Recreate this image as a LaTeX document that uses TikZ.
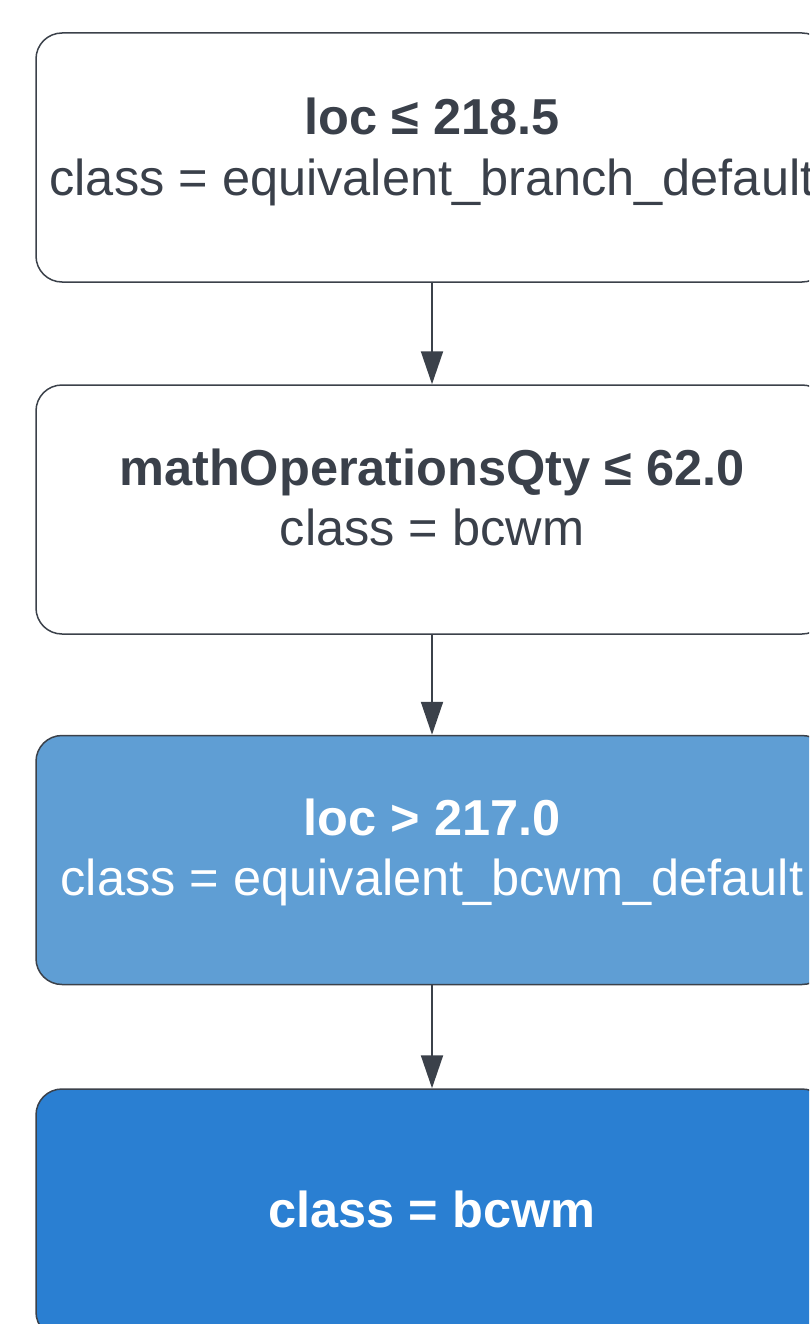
\documentclass[tikz,border=0pt]{standalone}
\usepackage{fontspec}
\setmainfont{Liberation Sans}
\usetikzlibrary{arrows.meta}
\definecolor{edgec}{HTML}{3B414A}
\definecolor{txtc}{HTML}{3A404A}
\definecolor{midblue}{HTML}{5F9ED4}
\definecolor{deepblue}{HTML}{2A7FD2}
\tikzset{
  treebox/.style={draw=edgec, line width=1.5pt, rounded corners=26pt, minimum width=792pt, minimum height=249pt, inner sep=0pt, fill=white},
  bluebox/.style={treebox, fill=midblue},
  darkbox/.style={treebox, fill=deepblue},
  lbl/.style={anchor=base, inner sep=0pt, text=txtc, font=\fontsize{50.5}{58}\selectfont},
  wlbl/.style={lbl, text=white},
  arr/.style={draw=edgec, line width=2pt, -{Triangle[width=22pt,length=33pt]}}
}
\begin{document}
\begin{tikzpicture}[x=1pt,y=-1pt]
\useasboundingbox (0,0) rectangle (809,1324);
\clip (0,0) rectangle (809,1324);
\node[treebox] (b1) at (432,157.5) {};
\node[treebox] (b2) at (432,509.5) {};
\node[bluebox] (b3) at (432,860) {};
\node[darkbox] (b4) at (432,1213.5) {};
\node[lbl] (t1a) at (432,135) {\textbf{loc ≤ 218.5}};
\node[lbl] (t1b) at (432,196) {class = equivalent\_branch\_default};
\node[lbl] (t2a) at (432,485) {\textbf{mathOperationsQty ≤ 62.0}};
\node[lbl] (t2b) at (432,545) {class = bcwm};
\node[wlbl] (t3a) at (432,835) {\textbf{loc > 217.0}};
\node[wlbl] (t3b) at (432,895) {class = equivalent\_bcwm\_default};
\node[wlbl] (t4) at (432,1227) {\textbf{class = bcwm}};
\draw[arr] (b1) -- (b2);
\draw[arr] (b2) -- (b3);
\draw[arr] (b3) -- (b4);
\end{tikzpicture}
\end{document}
